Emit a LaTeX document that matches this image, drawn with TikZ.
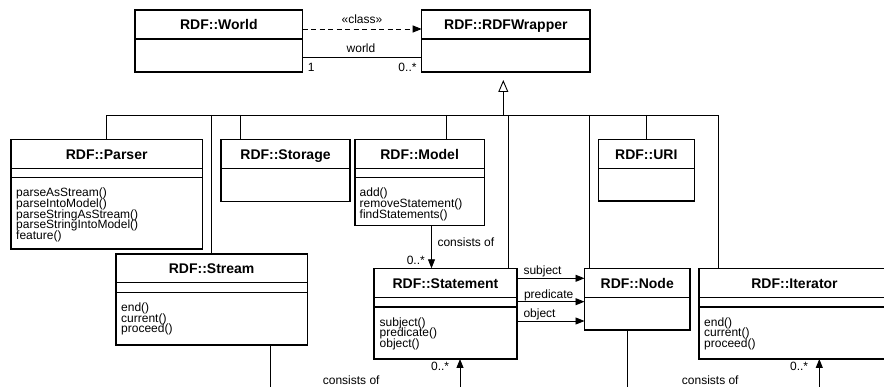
\documentclass[tikz,border=0pt]{standalone}
\usepackage{fontspec}
\setmainfont{Liberation Sans}
\usetikzlibrary{arrows.meta,calc}
\tikzset{
  classbox/.style={draw=black, line width=1.1pt, fill=white, inner sep=0pt, outer sep=0pt},
  sepline/.style={draw=black, line width=1.1pt},
  ctitle/.style={font=\fontsize{14}{16}\selectfont\bfseries, inner sep=0pt, anchor=base},
  meth/.style={font=\fontsize{12}{10.7}\selectfont, align=left, inner sep=0pt, anchor=north west},
  lbl/.style={font=\fontsize{12}{14}\selectfont, inner sep=0pt},
  conn/.style={draw=black, line width=0.9pt},
  assoc/.style={conn, -{Triangle[length=9pt,width=7pt]}},
  realize/.style={conn, dash pattern=on 5pt off 3.5pt, -{Triangle[length=9pt,width=7pt]}},
  inherit/.style={conn, -{Triangle[open,length=12pt,width=10pt,fill=white]}, shorten >=8pt},
}
\newcommand\umlclass[7]{%
  \node[classbox, anchor=north west, minimum width={(#4-#2)*1pt}, minimum height={(#5-#3)*1pt}] (#1) at (#2,#3) {};
  \node[ctitle] (#1-t) at ({(#2+#4)/2},{(#3+#6)/2+5.5}) {#7};
  \draw[sepline] (#2,#6) -- (#4,#6);
}
\begin{document}
\lineskiplimit=-50pt
\lineskip=0pt
\begin{tikzpicture}[x=1pt, y=-1pt]
\useasboundingbox (0,0) rectangle (884,387);
\clip (0,0) rectangle (884,387);

% classes
\umlclass{world}{135}{10}{302.7}{72}{39}{RDF::World}
\umlclass{wrapper}{421.7}{10}{590}{72}{39}{RDF::RDFWrapper}

\umlclass{parser}{11}{139.3}{202.3}{249}{168.3}{RDF::Parser}
\draw[sepline] (11,177.7) -- (202.3,177.7);
\node[meth] (parser-m) at (16,188) {parseAsStream()\\parseIntoModel()\\parseStringAsStream()\\parseStringIntoModel()\\feature()};

\umlclass{storage}{221}{139.3}{350}{201.7}{168.3}{RDF::Storage}

\umlclass{model}{355}{139.3}{484.3}{225.7}{168.3}{RDF::Model}
\draw[sepline] (355,177.7) -- (484.3,177.7);
\node[meth] (model-m) at (359.5,188) {add()\\removeStatement()\\findStatements()};

\umlclass{uri}{598.3}{139.3}{694.3}{201}{168.3}{RDF::URI}

\umlclass{stream}{116}{254}{307.3}{345}{282.7}{RDF::Stream}
\draw[sepline] (116,292.3) -- (307.3,292.3);
\node[meth] (stream-m) at (121,302.6) {end()\\current()\\proceed()};

\umlclass{stmt}{374}{268.3}{517}{359}{297.3}{RDF::Statement}
\draw[sepline] (374,307) -- (517,307);
\node[meth] (stmt-m) at (379.5,317.3) {subject()\\predicate()\\object()};

\umlclass{rnode}{584.5}{268.3}{690}{330}{297.3}{RDF::Node}

\umlclass{iter}{699}{268.3}{890}{359}{297.3}{RDF::Iterator}
\draw[sepline] (699,307) -- (890,307);
\node[meth] (iter-m) at (704,317.3) {end()\\current()\\proceed()};

% World - Wrapper
\coordinate (yd) at (0,29);
\coordinate (yw) at (0,57.7);
\draw[realize] (world.east |- yd) -- (wrapper.west |- yd);
\draw[conn] (world.east |- yw) -- (wrapper.west |- yw);
\node[lbl, anchor=base] (l-class) at (362,23.5) {«class»};
\node[lbl, anchor=base] (l-world) at (361,52.7) {world};
\node[lbl, anchor=base west] (l-one) at (307.7,71.5) {1};
\node[lbl, anchor=base east] (l-many) at (416.7,71.5) {0..*};

% inheritance hub
\coordinate (h-stream) at (211.7,115);
\coordinate (h-storage) at (240,115);
\coordinate (h-model) at (446,115);
\coordinate (h-stmt) at (508.3,115);
\coordinate (h-rnode) at (589.3,115);
\coordinate (h-uri) at (646.7,115);
\coordinate (h-iter) at (718.3,115);
\coordinate (g) at (503.3,115);
\draw[conn] (parser.north) |- (h-iter) -- (iter.north -| h-iter);
\foreach \n in {stream,storage,model,stmt,rnode,uri}{
  \draw[conn] (h-\n) -- (\n.north -| h-\n);
}
\draw[inherit] (g) -- (wrapper.south -| g);

% Model -> Statement
\coordinate (xm) at (431.5,0);
\draw[assoc] (model.south -| xm) -- (stmt.north -| xm);
\node[lbl, anchor=base west] (l-cons1) at (437.3,246.7) {consists of};
\node[lbl, anchor=base east] (l-m1) at (425,264.3) {0..*};

% Statement -> Node
\coordinate (ys) at (0,278.3);
\coordinate (yp) at (0,301.7);
\coordinate (yo) at (0,321);
\draw[assoc] (stmt.east |- ys) -- (rnode.west |- ys);
\draw[assoc] (stmt.east |- yp) -- (rnode.west |- yp);
\draw[assoc] (stmt.east |- yo) -- (rnode.west |- yo);
\node[lbl, anchor=base west] (l-subj) at (523.3,274.8) {subject};
\node[lbl, anchor=base west] (l-pred) at (523.8,298.2) {predicate};
\node[lbl, anchor=base west] (l-obj) at (523.3,317.5) {object};

% lower connectors
\coordinate (b-stream) at (270,392);
\coordinate (b-stmt) at (460,392);
\coordinate (b-rnode) at (627.7,392);
\coordinate (b-iter) at (819.3,392);
\draw[conn] (stream.south -| b-stream) -- (b-stream);
\draw[assoc] (b-stmt) -- (stmt.south -| b-stmt);
\draw[conn] (rnode.south -| b-rnode) -- (b-rnode);
\draw[assoc] (b-iter) -- (iter.south -| b-iter);
\node[lbl, anchor=base east] (l-m2) at (449.3,370.5) {0..*};
\node[lbl, anchor=base west] (l-cons2) at (322.7,384.2) {consists of};
\node[lbl, anchor=base east] (l-m3) at (808.3,370.5) {0..*};
\node[lbl, anchor=base west] (l-cons3) at (681.7,384.2) {consists of};
\end{tikzpicture}
\end{document}
